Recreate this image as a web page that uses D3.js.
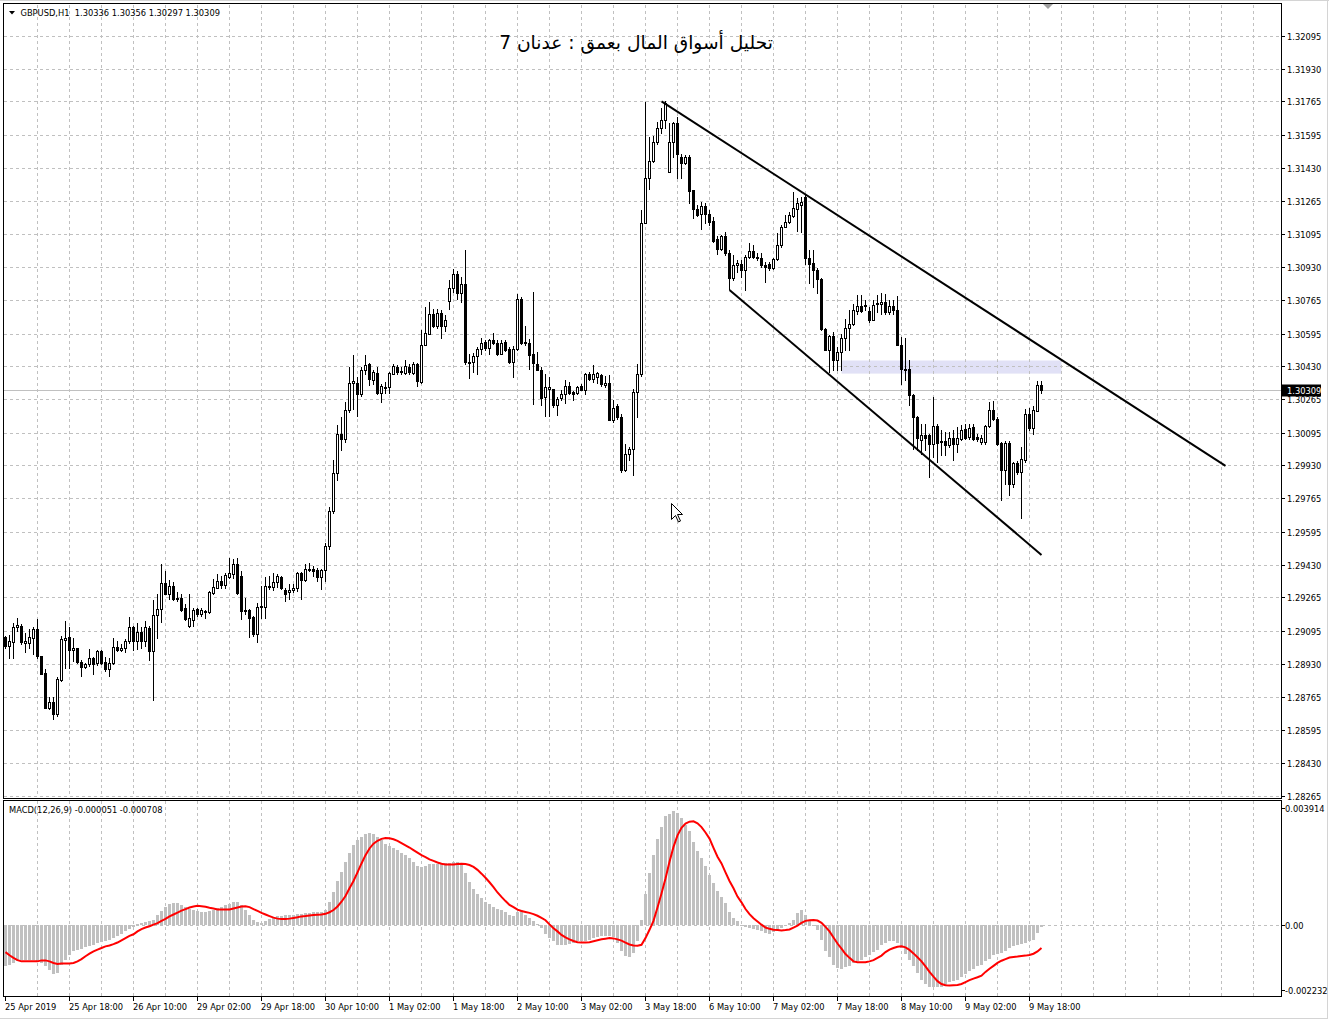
<!DOCTYPE html>
<html><head><meta charset="utf-8">
<script src="https://cdnjs.cloudflare.com/ajax/libs/d3/7.8.5/d3.min.js"></script>
<style>
html,body{margin:0;padding:0;background:#fff;}
svg{display:block;}
</style></head>
<body>
<svg id="chart" width="1329" height="1020"></svg>
<script>
// ---------------- DATA ----------------
const symbolText = "GBPUSD,H1  1.30336 1.30356 1.30297 1.30309";
const titleText = "تحليل أسواق المال بعمق : عدنان 7";
const macdText = "MACD(12,26,9) -0.000051 -0.000708";
const priceTicks = [1.32095,1.31930,1.31765,1.31595,1.31430,1.31265,1.31095,1.30930,1.30765,1.30595,1.30430,1.30265,1.30095,1.29930,1.29765,1.29595,1.29430,1.29265,1.29095,1.28930,1.28765,1.28595,1.28430,1.28265];
const macdTicks = [0.003914, 0, -0.002232];
const macdTickLabels = ["0.003914", "0.00", "-0.002232"];
const timeLabels = ["25 Apr 2019","25 Apr 18:00","26 Apr 10:00","29 Apr 02:00","29 Apr 18:00","30 Apr 10:00","1 May 02:00","1 May 18:00","2 May 10:00","3 May 02:00","3 May 18:00","6 May 10:00","7 May 02:00","7 May 18:00","8 May 10:00","9 May 02:00","9 May 18:00"];
const barsPerLabel = 16;
const lastPrice = 1.30309;

const open = [
1.29065,1.29020,1.29042,1.29113,1.29121,1.29037,1.29037,1.29062,1.29104,1.28970,
1.28882,1.28706,1.28738,1.28676,1.28847,1.29052,1.29065,1.28998,1.29008,1.28941,
1.28916,1.28931,1.28958,1.28936,1.28992,1.28941,1.28903,1.28936,1.29017,1.29000,
1.29008,1.29045,1.29116,1.29045,1.29091,1.29045,1.29108,1.28992,1.29176,1.29205,
1.29336,1.29284,1.29323,1.29259,1.29260,1.29210,1.29121,1.29151,1.29205,1.29183,
1.29196,1.29190,1.29289,1.29311,1.29348,1.29328,1.29370,1.29381,1.29435,1.29373,
1.29200,1.29200,1.29166,1.29082,1.29217,1.29218,1.29319,1.29319,1.29344,1.29368,
1.29302,1.29294,1.29302,1.29311,1.29386,1.29351,1.29402,1.29407,1.29402,1.29368,
1.29403,1.29524,1.29701,1.29894,1.30091,1.30065,1.30208,1.30348,1.30348,1.30289,
1.30413,1.30443,1.30363,1.30398,1.30297,1.30319,1.30326,1.30393,1.30427,1.30399,
1.30398,1.30427,1.30398,1.30440,1.30351,1.30539,1.30595,1.30695,1.30632,1.30700,
1.30632,1.30759,1.30826,1.30897,1.30801,1.30847,1.30452,1.30452,1.30482,1.30516,
1.30553,1.30524,1.30564,1.30549,1.30494,1.30553,1.30519,1.30452,1.30519,1.30771,
1.30548,1.30548,1.30494,1.30443,1.30413,1.30275,1.30317,1.30314,1.30237,1.30272,
1.30292,1.30331,1.30299,1.30296,1.30331,1.30312,1.30390,1.30368,1.30376,1.30385,
1.30334,1.30348,1.30158,1.30228,1.30175,1.29906,1.29990,1.30015,1.30301,1.30393,
1.31150,1.31377,1.31464,1.31562,1.31629,1.31674,1.31410,1.31562,1.31654,1.31486,
1.31456,1.31486,1.31318,1.31221,1.31197,1.31237,1.31200,1.31162,1.31071,1.31021,
1.31086,1.30999,1.30873,1.30940,1.30948,1.30915,1.30979,1.31012,1.30979,1.30974,
1.30940,1.30948,1.30923,1.30969,1.31041,1.31133,1.31158,1.31187,1.31221,1.31242,
1.31284,1.30974,1.30953,1.30915,1.30868,1.30619,1.30514,1.30581,1.30463,1.30502,
1.30574,1.30624,1.30641,1.30708,1.30732,1.30732,1.30708,1.30665,1.30742,1.30745,
1.30754,1.30703,1.30732,1.30712,1.30539,1.30418,1.30418,1.30283,1.30174,1.30057,
1.30082,1.30082,1.30040,1.30129,1.30053,1.30053,1.30031,1.30070,1.30040,1.30065,
1.30115,1.30073,1.30124,1.30073,1.30048,1.30048,1.30129,1.30208,1.30166,1.30043,
1.29905,1.30043,1.29835,1.29942,1.29897,1.29959,1.30191,1.30119,1.30204,1.30336];
const high = [
1.29070,1.29076,1.29138,1.29163,1.29129,1.29087,1.29104,1.29113,1.29155,1.28970,
1.28903,1.28765,1.28765,1.28861,1.29071,1.29146,1.29116,1.29062,1.29012,1.28948,
1.28936,1.29003,1.28965,1.28998,1.28998,1.28965,1.28961,1.29059,1.29045,1.29029,
1.29054,1.29166,1.29121,1.29138,1.29113,1.29146,1.29121,1.29250,1.29281,1.29432,
1.29398,1.29353,1.29344,1.29294,1.29281,1.29230,1.29281,1.29213,1.29213,1.29210,
1.29200,1.29297,1.29356,1.29385,1.29373,1.29390,1.29462,1.29457,1.29465,1.29398,
1.29264,1.29205,1.29171,1.29239,1.29323,1.29368,1.29373,1.29390,1.29385,1.29373,
1.29311,1.29331,1.29331,1.29395,1.29395,1.29432,1.29440,1.29423,1.29415,1.29407,
1.29540,1.29720,1.29956,1.30133,1.30175,1.30250,1.30427,1.30485,1.30376,1.30427,
1.30485,1.30447,1.30410,1.30427,1.30343,1.30351,1.30401,1.30440,1.30435,1.30427,
1.30464,1.30443,1.30450,1.30447,1.30611,1.30729,1.30754,1.30721,1.30721,1.30712,
1.30687,1.30867,1.30922,1.30910,1.30880,1.31018,1.30494,1.30497,1.30527,1.30574,
1.30561,1.30569,1.30598,1.30561,1.30561,1.30561,1.30527,1.30531,1.30796,1.30779,
1.30632,1.30569,1.30805,1.30502,1.30427,1.30390,1.30376,1.30317,1.30275,1.30312,
1.30359,1.30351,1.30306,1.30329,1.30339,1.30396,1.30401,1.30435,1.30401,1.30390,
1.30380,1.30385,1.30262,1.30242,1.30191,1.30040,1.30023,1.30317,1.30440,1.31217,
1.31763,1.31587,1.31590,1.31662,1.31730,1.31768,1.31654,1.31662,1.31688,1.31499,
1.31494,1.31494,1.31321,1.31242,1.31259,1.31251,1.31217,1.31184,1.31086,1.31091,
1.31108,1.31016,1.30990,1.30965,1.30965,1.30990,1.31049,1.31041,1.30999,1.30999,
1.30956,1.30956,1.30974,1.31100,1.31142,1.31192,1.31209,1.31310,1.31276,1.31284,
1.31293,1.31016,1.31016,1.30923,1.30873,1.30624,1.30586,1.30603,1.30527,1.30594,
1.30670,1.30712,1.30745,1.30787,1.30787,1.30762,1.30729,1.30762,1.30787,1.30799,
1.30796,1.30762,1.30762,1.30782,1.30577,1.30574,1.30460,1.30292,1.30178,1.30141,
1.30141,1.30090,1.30275,1.30141,1.30107,1.30099,1.30099,1.30107,1.30124,1.30132,
1.30141,1.30137,1.30137,1.30090,1.30082,1.30132,1.30250,1.30255,1.30174,1.30048,
1.30053,1.30053,1.29947,1.29953,1.30023,1.30216,1.30221,1.30228,1.30354,1.30356];
const low = [
1.29012,1.28958,1.28961,1.29096,1.29029,1.28987,1.29012,1.28978,1.28961,1.28877,
1.28706,1.28701,1.28651,1.28667,1.28844,1.28911,1.28908,1.28945,1.28936,1.28869,
1.28911,1.28919,1.28881,1.28924,1.28928,1.28894,1.28869,1.28928,1.28995,1.28995,
1.28987,1.29037,1.29000,1.29003,1.29012,1.29020,1.28950,1.28746,1.29062,1.29143,
1.29281,1.29255,1.29250,1.29247,1.29197,1.29150,1.29116,1.29121,1.29171,1.29171,
1.29163,1.29188,1.29281,1.29311,1.29314,1.29311,1.29365,1.29365,1.29284,1.29155,
1.29180,1.29065,1.29071,1.29042,1.29163,1.29163,1.29306,1.29301,1.29318,1.29306,
1.29247,1.29255,1.29294,1.29297,1.29255,1.29348,1.29398,1.29373,1.29348,1.29306,
1.29348,1.29510,1.29690,1.29855,1.30007,1.30049,1.30200,1.30217,1.30178,1.30279,
1.30393,1.30334,1.30343,1.30292,1.30250,1.30296,1.30296,1.30390,1.30390,1.30393,
1.30390,1.30393,1.30393,1.30329,1.30346,1.30536,1.30591,1.30628,1.30625,1.30574,
1.30608,1.30721,1.30805,1.30771,1.30754,1.30443,1.30373,1.30401,1.30393,1.30494,
1.30511,1.30494,1.30541,1.30485,1.30490,1.30507,1.30447,1.30376,1.30514,1.30541,
1.30536,1.30418,1.30242,1.30410,1.30233,1.30178,1.30178,1.30225,1.30183,1.30259,
1.30245,1.30289,1.30259,1.30289,1.30309,1.30292,1.30363,1.30351,1.30346,1.30329,
1.30326,1.30158,1.30149,1.30166,1.29897,1.29902,1.29956,1.29881,1.30175,1.30380,
1.31150,1.31326,1.31461,1.31553,1.31607,1.31629,1.31410,1.31486,1.31377,1.31377,
1.31452,1.31251,1.31175,1.31187,1.31120,1.31150,1.31142,1.31058,1.30995,1.31016,
1.30990,1.30822,1.30864,1.30906,1.30881,1.30814,1.30974,1.30974,1.30965,1.30932,
1.30856,1.30915,1.30918,1.30965,1.31032,1.31130,1.31150,1.31184,1.31113,1.31108,
1.30945,1.30848,1.30831,1.30797,1.30612,1.30510,1.30401,1.30409,1.30409,1.30409,
1.30510,1.30510,1.30636,1.30695,1.30703,1.30712,1.30653,1.30661,1.30703,1.30695,
1.30695,1.30695,1.30695,1.30535,1.30342,1.30359,1.30233,1.30015,1.30006,1.29989,
1.30006,1.29872,1.29973,1.29947,1.29981,1.29981,1.30023,1.29956,1.29998,1.30060,
1.30065,1.30065,1.30060,1.30053,1.30040,1.30040,1.30124,1.30161,1.30031,1.29754,
1.29838,1.29779,1.29821,1.29889,1.29667,1.29947,1.30107,1.30087,1.30204,1.30297];
const close = [
1.29020,1.29045,1.29116,1.29126,1.29042,1.29045,1.29065,1.29104,1.28970,1.28881,
1.28706,1.28738,1.28676,1.28852,1.29054,1.29059,1.28998,1.29008,1.28941,1.28916,
1.28928,1.28958,1.28931,1.28992,1.28936,1.28903,1.28936,1.29017,1.29000,1.29012,
1.29045,1.29116,1.29045,1.29091,1.29045,1.29113,1.28992,1.29176,1.29205,1.29336,
1.29284,1.29323,1.29259,1.29264,1.29202,1.29155,1.29160,1.29202,1.29180,1.29202,
1.29190,1.29292,1.29318,1.29348,1.29328,1.29378,1.29386,1.29435,1.29289,1.29197,
1.29197,1.29163,1.29079,1.29217,1.29222,1.29323,1.29323,1.29344,1.29373,1.29311,
1.29281,1.29302,1.29311,1.29386,1.29351,1.29407,1.29407,1.29398,1.29368,1.29402,
1.29524,1.29701,1.29894,1.30086,1.30065,1.30208,1.30348,1.30354,1.30292,1.30413,
1.30435,1.30368,1.30401,1.30297,1.30331,1.30326,1.30396,1.30430,1.30401,1.30405,
1.30430,1.30401,1.30440,1.30356,1.30539,1.30598,1.30695,1.30632,1.30700,1.30632,
1.30665,1.30826,1.30897,1.30801,1.30847,1.30452,1.30447,1.30482,1.30519,1.30549,
1.30524,1.30561,1.30549,1.30494,1.30549,1.30514,1.30452,1.30519,1.30771,1.30548,
1.30553,1.30485,1.30447,1.30413,1.30272,1.30326,1.30326,1.30237,1.30267,1.30289,
1.30331,1.30296,1.30292,1.30326,1.30312,1.30390,1.30368,1.30390,1.30398,1.30339,
1.30348,1.30161,1.30222,1.30175,1.29906,1.29990,1.30015,1.30301,1.30393,1.31150,
1.31377,1.31464,1.31562,1.31629,1.31671,1.31758,1.31562,1.31654,1.31499,1.31456,
1.31486,1.31315,1.31221,1.31192,1.31237,1.31200,1.31158,1.31061,1.31021,1.31086,
1.30999,1.30873,1.30940,1.30952,1.30915,1.30982,1.31011,1.30979,1.30974,1.30943,
1.30932,1.30923,1.30969,1.31041,1.31133,1.31158,1.31192,1.31226,1.31251,1.31259,
1.30974,1.30948,1.30915,1.30868,1.30619,1.30514,1.30581,1.30463,1.30502,1.30574,
1.30624,1.30641,1.30712,1.30732,1.30708,1.30737,1.30665,1.30737,1.30749,1.30754,
1.30703,1.30732,1.30712,1.30539,1.30418,1.30413,1.30283,1.30174,1.30068,1.30082,
1.30070,1.30040,1.30129,1.30045,1.30048,1.30031,1.30070,1.30040,1.30070,1.30110,
1.30070,1.30119,1.30065,1.30065,1.30070,1.30129,1.30211,1.30166,1.30040,1.29905,
1.30043,1.29835,1.29942,1.29897,1.29964,1.30191,1.30119,1.30208,1.30337,1.30309];

// MACD values in points (1 point = 0.00001)
const POINT = 0.00001;
const macdMain = [
-128,-125,-118,-113,-110,-110,-108,-110,-113,-118,
-128,-139,-152,-149,-123,-108,-94,-82,-77,-73,
-69,-66,-61,-57,-53,-50,-46,-40,-35,-28,
-19,-12,-6,4,7,9,12,17,31,45,
59,66,69,69,64,56,51,48,45,43,
43,46,49,54,59,64,68,72,72,64,
48,33,17,10,7,12,20,25,29,30,
31,33,33,35,36,38,39,41,41,43,
48,72,106,139,168,199,228,253,267,277,
285,288,285,277,267,256,249,243,236,228,
220,210,199,187,184,187,191,192,193,193,
194,196,199,199,194,163,135,114,97,87,
74,66,56,50,47,41,31,28,43,48,
33,24,12,4,-9,-28,-40,-50,-61,-63,
-61,-59,-56,-50,-50,-50,-45,-40,-38,-35,
-32,-32,-38,-56,-82,-97,-100,-87,-50,17,
98,163,220,272,308,343,350,357,353,336,
314,295,262,232,210,187,158,132,108,90,
69,41,24,12,-2,-6,-9,-11,-14,-19,
-24,-28,-21,-14,-9,-1,7,17,38,48,
33,12,-2,-14,-45,-80,-100,-123,-134,-136,
-132,-128,-118,-113,-108,-100,-92,-84,-76,-63,
-56,-50,-50,-56,-71,-90,-108,-128,-149,-170,
-184,-194,-194,-194,-193,-186,-177,-175,-170,-163,
-154,-144,-136,-128,-123,-113,-105,-94,-90,-87,
-82,-71,-66,-61,-59,-56,-50,-45,-24,-5];
const macdSignal = [
-84,-94,-102,-109,-113,-113,-113,-113,-113,-110,
-110,-113,-118,-121,-120,-120,-120,-118,-113,-106,
-97,-89,-82,-76,-71,-66,-63,-59,-54,-47,
-40,-33,-28,-19,-12,-7,-3,2,7,14,
20,28,34,40,46,51,56,59,61,60,
58,55,53,50,50,50,50,53,56,59,
60,57,51,45,39,34,29,24,21,20,
20,21,23,25,28,29,31,32,33,34,
36,41,48,59,74,92,116,139,166,194,
220,241,256,265,271,274,273,270,265,258,
251,244,236,228,220,214,207,202,197,193,
191,191,191,192,193,192,189,183,174,162,
149,135,120,103,89,76,64,57,49,45,
42,39,35,30,23,16,3,-9,-19,-30,
-38,-44,-49,-53,-54,-54,-53,-50,-47,-44,
-42,-40,-41,-44,-48,-54,-60,-63,-64,-61,
-40,-14,14,56,100,147,199,246,282,306,
319,325,326,320,308,291,272,243,215,194,
166,139,116,90,72,51,35,22,12,2,
-7,-11,-14,-15,-16,-15,-13,-7,-1,8,
14,16,17,15,8,-5,-19,-38,-57,-73,
-90,-102,-113,-116,-116,-116,-113,-109,-102,-95,
-84,-76,-71,-67,-66,-69,-77,-88,-100,-113,
-129,-146,-161,-175,-184,-188,-189,-188,-187,-184,
-178,-172,-167,-163,-158,-146,-136,-127,-118,-111,
-106,-101,-99,-98,-96,-95,-93,-89,-82,-71];

// drawn objects: [bar index, price]
const upperTrend = [[164, 1.31765], [305, 1.29928]];
const lowerTrend = [[181, 1.30815], [259, 1.29479]];
const zoneBars = [209, 264];
const zonePrices = [1.30459, 1.30393];

// ---------------- DRAW ----------------
const FONT = "'DejaVu Sans', Verdana, sans-serif";
const FS = 8.3;
const svg = d3.select("#chart");
svg.append("rect").attr("width",1329).attr("height",1020).attr("fill","#fff");

const N = open.length;
const x = d3.scaleLinear().domain([0, 319]).range([5.5, 1281.5]);
const y = d3.scaleLinear().domain([priceTicks[priceTicks.length-1], priceTicks[0]]).range([795.7, 36]);
const ym = d3.scaleLinear().domain([macdTicks[2]/POINT, macdTicks[0]/POINT]).range([996.5, 800.5]);
const crisp = v => Math.round(v) + 0.5;

const defs = svg.append("defs");
defs.append("clipPath").attr("id","clipMain").append("rect").attr("x",4).attr("y",4).attr("width",1277.5).attr("height",794);
defs.append("clipPath").attr("id","clipMacd").append("rect").attr("x",4).attr("y",801).attr("width",1277.5).attr("height",195.5);

// window frame
svg.append("line").attr("x1",0).attr("x2",1329).attr("y1",0.5).attr("y2",0.5).attr("stroke","#d4d4d4");
svg.append("line").attr("x1",1327.5).attr("x2",1327.5).attr("y1",0).attr("y2",1019).attr("stroke","#d4d4d4");
svg.append("line").attr("x1",0).attr("x2",1328).attr("y1",1018.5).attr("y2",1018.5).attr("stroke","#d4d4d4");

const gMain = svg.append("g").attr("clip-path","url(#clipMain)");
// zone rectangle
gMain.append("rect")
  .attr("x", x(zoneBars[0])).attr("width", x(zoneBars[1]) - x(zoneBars[0]))
  .attr("y", y(zonePrices[0])).attr("height", y(zonePrices[1]) - y(zonePrices[0]))
  .attr("fill", "#e1e1f6");

// grid
const gridColor = "#c0c0c0";
gMain.selectAll("line.hg").data(priceTicks).join("line").attr("class","hg")
  .attr("x1",4).attr("x2",1281).attr("y1",d=>crisp(y(d))).attr("y2",d=>crisp(y(d)))
  .attr("stroke",gridColor).attr("stroke-dasharray","3,3").attr("shape-rendering","crispEdges");
const vGrid = d3.range(8, 320, 8);
gMain.selectAll("line.vg").data(vGrid).join("line").attr("class","vg")
  .attr("x1",d=>x(d)).attr("x2",d=>x(d)).attr("y1",5).attr("y2",797)
  .attr("stroke",gridColor).attr("stroke-dasharray","3,3").attr("shape-rendering","crispEdges");

// current price line
gMain.append("line").attr("x1",4).attr("x2",1281).attr("y1",crisp(y(lastPrice))).attr("y2",crisp(y(lastPrice)))
  .attr("stroke","#c0c0c0").attr("shape-rendering","crispEdges");

// candles
const bars = d3.range(N).map(i => ({i, o:open[i], h:high[i], l:low[i], c:close[i]}));
const gC = gMain.append("g").attr("shape-rendering","crispEdges");
gC.selectAll("line.wick").data(bars).join("line").attr("class","wick")
  .attr("x1",d=>x(d.i)).attr("x2",d=>x(d.i))
  .attr("y1",d=>Math.round(y(d.h))).attr("y2",d=>Math.round(y(d.l))+1)
  .attr("stroke","#000");
gC.selectAll("rect.body").data(bars).join("rect").attr("class","body")
  .attr("x",d=>x(d.i)-1)
  .attr("y",d=>Math.round(y(Math.max(d.o,d.c)))+0.5)
  .attr("width",2)
  .attr("height",d=>Math.max(0, Math.round(y(Math.min(d.o,d.c))) - Math.round(y(Math.max(d.o,d.c)))))
  .attr("fill",d=>d.c >= d.o ? "#fff" : "#000")
  .attr("stroke","#000");

// trend lines
[upperTrend, lowerTrend].forEach(t => {
  gMain.append("line")
    .attr("x1",x(t[0][0])).attr("y1",y(t[0][1]))
    .attr("x2",x(t[1][0])).attr("y2",y(t[1][1]))
    .attr("stroke","#000").attr("stroke-width",2);
});

// MACD panel
const gM = svg.append("g").attr("clip-path","url(#clipMacd)");
gM.selectAll("line.vg2").data(vGrid).join("line").attr("class","vg2")
  .attr("x1",d=>x(d)).attr("x2",d=>x(d)).attr("y1",801).attr("y2",996)
  .attr("stroke",gridColor).attr("stroke-dasharray","3,3").attr("shape-rendering","crispEdges");
gM.append("line").attr("x1",4).attr("x2",1281).attr("y1",crisp(ym(0))).attr("y2",crisp(ym(0)))
  .attr("stroke",gridColor).attr("stroke-dasharray","3,3").attr("shape-rendering","crispEdges");
const y0 = Math.round(ym(0));
gM.selectAll("rect.hist").data(macdMain).join("rect").attr("class","hist")
  .attr("x",(d,i)=>x(i)-1.5).attr("width",3)
  .attr("y",d=> d>=0 ? Math.round(ym(d)) : y0)
  .attr("height",d=> Math.max(1, Math.abs(Math.round(ym(d)) - y0)))
  .attr("fill","#c0c0c0").attr("shape-rendering","crispEdges");
gM.append("path").datum(macdSignal)
  .attr("d", d3.line().x((d,i)=>x(i)).y(d=>ym(d)))
  .attr("fill","none").attr("stroke","#ff0000").attr("stroke-width",2);

// panel borders
svg.append("path").attr("d","M3.5,3.5H1281.5V798.5H3.5Z").attr("fill","none").attr("stroke","#000").attr("shape-rendering","crispEdges");
svg.append("path").attr("d","M3.5,800.5H1281.5V996.5H3.5Z").attr("fill","none").attr("stroke","#000").attr("shape-rendering","crispEdges");

// price axis
const gA = svg.append("g").attr("font-family",FONT).attr("font-size",FS).attr("fill","#000");
priceTicks.forEach(t => {
  const yy = crisp(y(t));
  svg.append("line").attr("x1",1282).attr("x2",1285).attr("y1",yy).attr("y2",yy).attr("stroke","#000").attr("shape-rendering","crispEdges");
  gA.append("text").attr("x",1287).attr("y",yy+3.2).text(t.toFixed(5));
});
// current price tag
const yp = crisp(y(lastPrice));
svg.append("rect").attr("x",1282).attr("y",yp-6).attr("width",39).attr("height",12).attr("fill","#000");
svg.append("text").attr("x",1287).attr("y",yp+3.2).attr("font-family",FONT).attr("font-size",FS).attr("fill","#fff").text(lastPrice.toFixed(5));

// macd axis
const macdLabelY = [ym(macdTicks[0]/POINT)+7, ym(0), ym(macdTicks[2]/POINT)-7];
macdTicks.forEach((t,k) => {
  const yy = crisp(macdLabelY[k]);
  svg.append("line").attr("x1",1282).attr("x2",1285).attr("y1",yy).attr("y2",yy).attr("stroke","#000").attr("shape-rendering","crispEdges");
  gA.append("text").attr("x",1285).attr("y",yy+3.2).text(macdTickLabels[k]);
});

// time axis
timeLabels.forEach((lab,k) => {
  const xx = x(k*barsPerLabel);
  svg.append("line").attr("x1",xx).attr("x2",xx).attr("y1",997).attr("y2",1001).attr("stroke","#000").attr("shape-rendering","crispEdges");
  gA.append("text").attr("x",xx-0.5).attr("y",1010).text(lab);
});

// header texts
svg.append("path").attr("d","M9,11H15L12,14.5Z").attr("fill","#000");
svg.append("text").attr("x",20.5).attr("y",16).attr("font-family",FONT).attr("font-size",FS).attr("fill","#000").attr("xml:space","preserve").style("white-space","pre").text(symbolText);
svg.append("text").attr("x",9).attr("y",813).attr("font-family",FONT).attr("font-size",FS).attr("fill","#000").text(macdText);

// title (Arabic)
const title = svg.append("text").attr("x",636).attr("y",49).attr("text-anchor","middle")
  .attr("direction","rtl").attr("font-family","'DejaVu Sans', sans-serif").attr("font-size",20).attr("fill","#000").text(titleText);
const tw = title.node().getComputedTextLength();
if (tw > 0) title.attr("font-size", 20 * 274 / tw);

// shift marker and cursor
svg.append("path").attr("d","M1043,4H1053L1048,9Z").attr("fill","#a0a0a0");
svg.append("path").attr("d","M0,0L0,16L4,12L7,18.5L9,17.5L6,11L11,11Z").attr("transform","translate(671.5,503.5)")
  .attr("fill","#fff").attr("stroke","#000").attr("stroke-width",1);
</script>
</body></html>
